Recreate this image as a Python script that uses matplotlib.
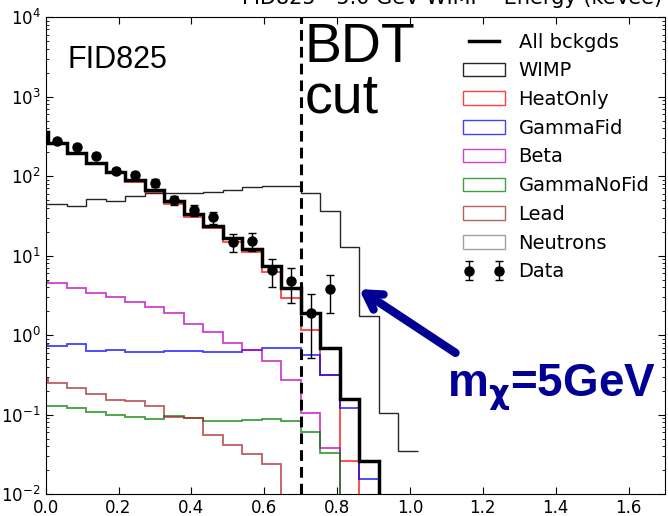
import numpy as np
import matplotlib
matplotlib.use("Agg")
import matplotlib.pyplot as plt
from matplotlib.lines import Line2D
from matplotlib.patches import Patch

# bin edges of the BDT output histogram (first bin starts just left of 0)
edges = np.linspace(-0.0485, 1.0215, 21)
centers = 0.5 * (edges[:-1] + edges[1:])

all_bckgds = [358, 261, 193, 145, 113, 89, 67, 48, 33.4, 23.6,
              16.5, 12.1, 7.5, 3.9, 1.9, 0.70, 0.156, 0.026, 0, 0]
wimp = [45, 44, 42.5, 51, 48.6, 57, 62, 62, 61, 64,
        67, 74, 75, 75, 61, 36.7, 12.7, 1.74, 0.104, 0.035]
heat_only = [352, 255, 188, 141, 108, 84, 64, 45, 31, 22.5,
             15, 11.2, 6.3, 2.96, 1.16, 0.316, 0.026, 0, 0, 0]
gamma_fid = [0.76, 0.74, 0.77, 0.63, 0.65, 0.62, 0.62, 0.64, 0.64, 0.61,
             0.62, 0.66, 0.70, 0.70, 0.56, 0.316, 0.12, 0.0154, 0, 0]
beta = [4.7, 4.5, 3.95, 3.37, 3.05, 2.64, 2.28, 1.92, 1.38, 1.11,
        0.79, 0.65, 0.47, 0.27, 0.104, 0.038, 0, 0, 0, 0]
gamma_nofid = [0.13, 0.129, 0.123, 0.107, 0.099, 0.095, 0.089, 0.096, 0.092, 0.083,
               0.084, 0.086, 0.089, 0.083, 0.06, 0.033, 0, 0, 0, 0]
lead = [0.28, 0.25, 0.22, 0.18, 0.153, 0.149, 0.129, 0.095, 0.09, 0.056,
        0.042, 0.032, 0.024, 0, 0, 0, 0, 0, 0, 0]

# data points (one per bin, starting at the first full bin)
data_y = [279, 234, 180, 116, 103, 82.6, 50, 37.5, 30.3, 15,
          15.3, 6.6, 4.76, 1.92, 3.81]
data_err = [17, 15, 13, 11, 10, 9, 7, 6, 5.5, 3.9,
            3.9, 2.6, 2.2, 1.4, 1.9]
data_x = centers[1:1 + len(data_y)]

bdt_cut = 0.7

fig = plt.figure(figsize=(6.68, 5.16), dpi=100)
ax = fig.add_axes([0.0684, 0.042, 0.9271, 0.925])
ax.set_yscale("log")

comps = [
    (wimp, "0.15", 1.0, 1.0),
    (heat_only, "red", 1.3, 0.75),
    (gamma_fid, "blue", 1.3, 0.75),
    (beta, "m", 1.3, 0.75),
    (gamma_nofid, "green", 1.3, 0.75),
    (lead, "brown", 1.3, 0.75),
]
for vals, col, lw, a in comps:
    ax.stairs(vals, edges, baseline=None, color=col, lw=lw, alpha=a)

ax.stairs(all_bckgds, edges, baseline=None, color="black", lw=2.5, zorder=4)

ax.axvline(bdt_cut, color="black", lw=2.2, ls=(0, (3.5, 2)), zorder=5)

data = ax.errorbar(data_x, data_y, yerr=data_err, fmt="o", color="black",
                   ms=6.5, capsize=3, elinewidth=1, capthick=1, zorder=6)

ax.set_xlim(0, 1.7)
ax.set_ylim(1e-2, 1e4)
ax.set_xticks(np.arange(0, 1.61, 0.2))
ax.tick_params(which="both", direction="in", top=True, right=True, labelsize=12)
ax.tick_params(which="major", length=5)
ax.tick_params(which="minor", length=2.5)

ax.text(0.036, 0.893, "FID825", transform=ax.transAxes, fontsize=22,
        family=["Liberation Sans", "DejaVu Sans"])
ax.text(0.418, 0.906, "BDT", transform=ax.transAxes, fontsize=40,
        family=["Liberation Sans", "DejaVu Sans"])
ax.text(0.418, 0.799, "cut", transform=ax.transAxes, fontsize=40,
        family=["Liberation Sans", "DejaVu Sans"])

navy = "#000094"
ax.annotate("", xy=(0.86, 3.8), xytext=(1.125, 0.6),
            arrowprops=dict(arrowstyle="->,head_length=1.1,head_width=0.65",
                            color=navy, lw=6, shrinkA=0, shrinkB=0))
ax.text(0.648, 0.204, r"m$_\mathbf{\chi}$=5GeV", transform=ax.transAxes,
        fontsize=33, color=navy, fontweight="bold",
        family=["Liberation Sans", "DejaVu Sans"])

fig.text(0.677, 1 - 4 / 516, "FID825 - 5.0 GeV WIMP - Energy (keVee)",
         ha="center", va="baseline", fontsize=15)

handles = [
    Line2D([], [], color="black", lw=2.5),
    Patch(fill=False, edgecolor="0.15"),
    Patch(fill=False, edgecolor="red", alpha=0.75),
    Patch(fill=False, edgecolor="blue", alpha=0.75),
    Patch(fill=False, edgecolor="m", alpha=0.75),
    Patch(fill=False, edgecolor="green", alpha=0.75),
    Patch(fill=False, edgecolor="brown", alpha=0.75),
    Patch(fill=False, edgecolor="gray", alpha=0.75),
    data,
]
labels = ["All bckgds", "WIMP", "HeatOnly", "GammaFid", "Beta",
          "GammaNoFid", "Lead", "Neutrons", "Data"]
ax.legend(handles, labels, loc="upper right", frameon=False, fontsize=14,
          numpoints=2, labelspacing=0.5, handlelength=2.15, handletextpad=0.72,
          borderaxespad=0.4)

fig.savefig("out.png", dpi=100)
